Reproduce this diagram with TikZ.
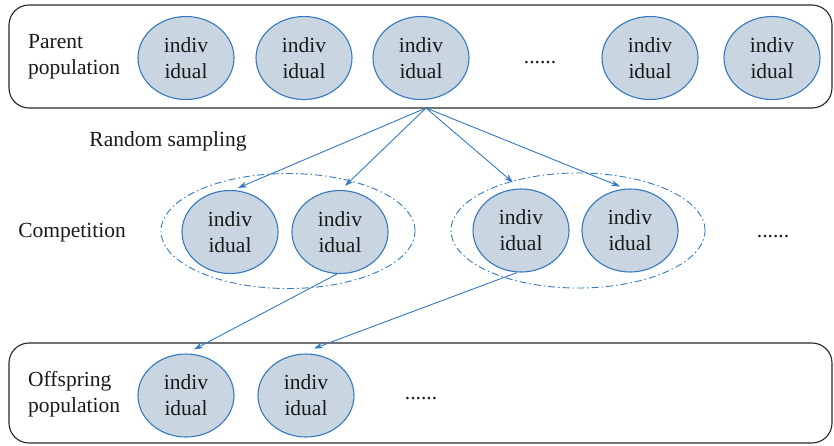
\documentclass[tikz,border=0pt]{standalone}
\usepackage{fontspec}
\setmainfont{Liberation Serif}
\usetikzlibrary{shapes.geometric,arrows.meta,calc}
\definecolor{indblue}{RGB}{52,121,192}
\definecolor{indfill}{RGB}{201,214,225}
\tikzset{
  indiv/.style={ellipse, draw=indblue, line width=1.1pt, fill=indfill,
    minimum width=96pt, minimum height=83pt, inner sep=0pt, align=center,
    font=\fontsize{21.5}{26}\selectfont, text=black!90},
  popbox/.style={draw=black!85, line width=1.1pt, rounded corners=20pt},
  grp/.style={ellipse, draw=indblue, line width=0.9pt,
    dash pattern=on 7pt off 3pt on 1.5pt off 3pt, inner sep=0pt},
  lbl/.style={font=\fontsize{21.5}{26}\selectfont, text=black!90, align=left, inner sep=0pt},
  arr/.style={draw=indblue, line width=0.9pt, -{Stealth[length=9pt,width=6pt]}}
}
\begin{document}
\begin{tikzpicture}[x=1pt,y=1pt]
\useasboundingbox (0,0) rectangle (834,-445);
% population boxes
\draw[popbox] (9,-5) rectangle (832,-108);
\coordinate (topbot) at (0,-108);
\draw[popbox] (9,-343) rectangle (832,-443);
% parent population
\node[lbl, anchor=west] (plab) at (28,-57) {Parent\\population};
\node[indiv] (p1) at (186,-58) {indiv\\idual};
\node[indiv] (p2) at (304,-58) {indiv\\idual};
\node[indiv] (p3) at (421,-58) {indiv\\idual};
\node[lbl, anchor=base] (pdots) at (540,-63) {......};
\node[indiv] (p4) at (650,-58) {indiv\\idual};
\node[indiv] (p5) at (772,-58) {indiv\\idual};
% competition groups
\node[grp, minimum width=254pt, minimum height=115pt] (g1) at (288,-231) {};
\node[grp, minimum width=254pt, minimum height=115pt] (g2) at (578,-230.5) {};
\node[indiv] (m1) at (230,-232) {indiv\\idual};
\node[indiv] (m2) at (340,-232) {indiv\\idual};
\node[indiv] (m3) at (521,-230.5) {indiv\\idual};
\node[indiv] (m4) at (630,-230.5) {indiv\\idual};
\node[lbl] (rs) at (168,-141) {Random sampling};
\node[lbl] (comp) at (72,-233) {Competition};
\node[lbl, anchor=base] (mdots) at (773,-237) {......};
% offspring population
\node[lbl, anchor=west] (olab) at (28,-394) {Offspring\\population};
\node[indiv] (o1) at (186,-395.5) {indiv\\idual};
\node[indiv] (o2) at (306,-395.5) {indiv\\idual};
\node[lbl, anchor=base] (odots) at (421,-399) {......};
% arrows
\coordinate (src) at ($(p3.south -| p3.center)+(5,0)$);
\coordinate (src) at (src |- topbot);
\draw[arr] (src) -- ($(m1.north)+(8,2)$);
\draw[arr] (src) -- ($(m2.north)+(5,4)$);
\draw[arr] (src) -- ($(m3.north)+(-8,6)$);
\draw[arr] (src) -- ($(m4.north)+(-10,2)$);
\draw[arr] ($(m2.south)+(-3,0)$) -- ($(o1.north)+(8,4)$);
\draw[arr] ($(m3.south)+(-4,0)$) -- ($(o2.north)+(8,5)$);
\end{tikzpicture}
\end{document}
